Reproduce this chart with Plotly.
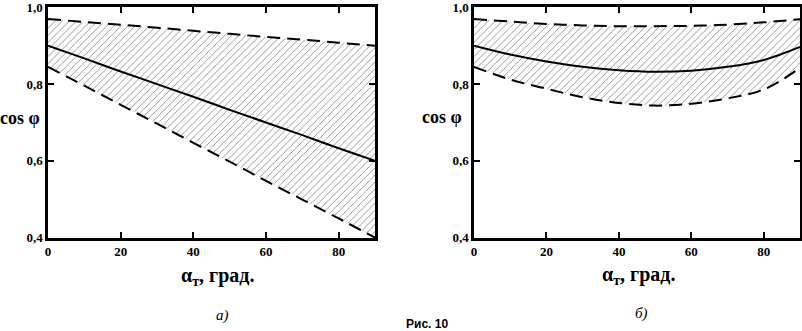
import plotly.graph_objects as go

# ---- data ----
alpha = [0, 10, 20, 30, 40, 50, 60, 70, 80, 90]

# panel a)
a_upper = [0.970, 0.962, 0.955, 0.947, 0.939, 0.931, 0.923, 0.916, 0.908, 0.900]
a_mid   = [0.900, 0.867, 0.833, 0.800, 0.767, 0.733, 0.700, 0.667, 0.633, 0.600]
a_lower = [0.845, 0.796, 0.746, 0.697, 0.647, 0.598, 0.548, 0.499, 0.450, 0.400]

# panel б)
b_upper = [0.970, 0.963, 0.957, 0.953, 0.951, 0.951, 0.952, 0.955, 0.961, 0.969]
b_mid   = [0.900, 0.877, 0.859, 0.845, 0.836, 0.832, 0.835, 0.845, 0.863, 0.897]
b_lower = [0.845, 0.812, 0.788, 0.766, 0.751, 0.744, 0.749, 0.763, 0.786, 0.842]

x_ticks = [0, 20, 40, 60, 80]
y_ticks = [0.4, 0.6, 0.8, 1.0]
y_labels = ["0,4", "0,6", "0,8", "1,0"]

W, H = 802, 331
fig = go.Figure()

def add_panel(xa, ya, up, mid, lo):
    fig.add_trace(go.Scatter(x=alpha, y=lo, mode="lines", xaxis=xa, yaxis=ya,
                             line=dict(color="black", width=2, dash="13px,7px", shape="spline"),
                             showlegend=False, hoverinfo="skip"))
    fig.add_trace(go.Scatter(x=alpha, y=up, mode="lines", xaxis=xa, yaxis=ya, fill="tonexty",
                             fillcolor="rgba(0,0,0,0)",
                             fillpattern=dict(shape="/", fgcolor="#555", bgcolor="white",
                                              size=5, solidity=0.12, fillmode="replace"),
                             line=dict(color="black", width=2, dash="13px,7px", shape="spline"),
                             showlegend=False, hoverinfo="skip"))
    fig.add_trace(go.Scatter(x=alpha, y=mid, mode="lines", xaxis=xa, yaxis=ya,
                             line=dict(color="black", width=2, shape="spline"),
                             showlegend=False, hoverinfo="skip"))

add_panel("x", "y", a_upper, a_mid, a_lower)
add_panel("x2", "y2", b_upper, b_mid, b_lower)

font_tick = dict(family="Liberation Serif", size=13, color="black", weight="bold")
ax_common = dict(showline=True, linewidth=2.5, linecolor="black", mirror="ticks",
                 ticks="inside", ticklen=6, tickwidth=2, tickcolor="black",
                 showgrid=False, zeroline=False, tickfont=font_tick, automargin=False,
                 ticklabeloverflow="allow")

ydom = [(H - 238) / H, (H - 7) / H]
yrange = [0.399, 1.001]
fig.update_layout(
    width=W, height=H, margin=dict(l=0, r=0, t=0, b=0),
    paper_bgcolor="white", plot_bgcolor="white", separators=", ",
    xaxis=dict(domain=[48 / W, 375 / W], range=[0, 90], tickvals=x_ticks,
               anchor="y", **ax_common),
    yaxis=dict(domain=ydom, range=yrange, tickvals=y_ticks, ticktext=y_labels,
               anchor="x", **ax_common),
    xaxis2=dict(domain=[474 / W, 800 / W], range=[0, 90], tickvals=x_ticks,
                anchor="y2", **ax_common),
    yaxis2=dict(domain=ydom, range=yrange, tickvals=y_ticks, ticktext=y_labels,
                anchor="x2", **ax_common),
)

def ann(text, x, y, size, family="Liberation Serif", **kw):
    fig.add_annotation(text=text, x=x / W, y=1 - y / H, xref="paper", yref="paper",
                       showarrow=False, xanchor="center", yanchor="middle",
                       font=dict(family=family, size=size, color="black"), **kw)

ann("<b>cos φ</b>", 20, 118, 18)
ann("<b>cos φ</b>", 442, 117, 18)
ann("<b>α<sub>т</sub>, град.</b>", 217, 276, 20)
ann("<b>α<sub>т</sub>, град.</b>", 638, 275, 20)
ann("<i>а)</i>", 222, 315, 15)
ann("<i>б)</i>", 641, 313, 15)
ann("<b>Рис. 10</b>", 427, 324, 12, family="Liberation Sans")

fig.write_html("out.html", config={"displayModeBar": False},
               post_script="document.body.style.margin='0';document.body.style.overflow='hidden';")
